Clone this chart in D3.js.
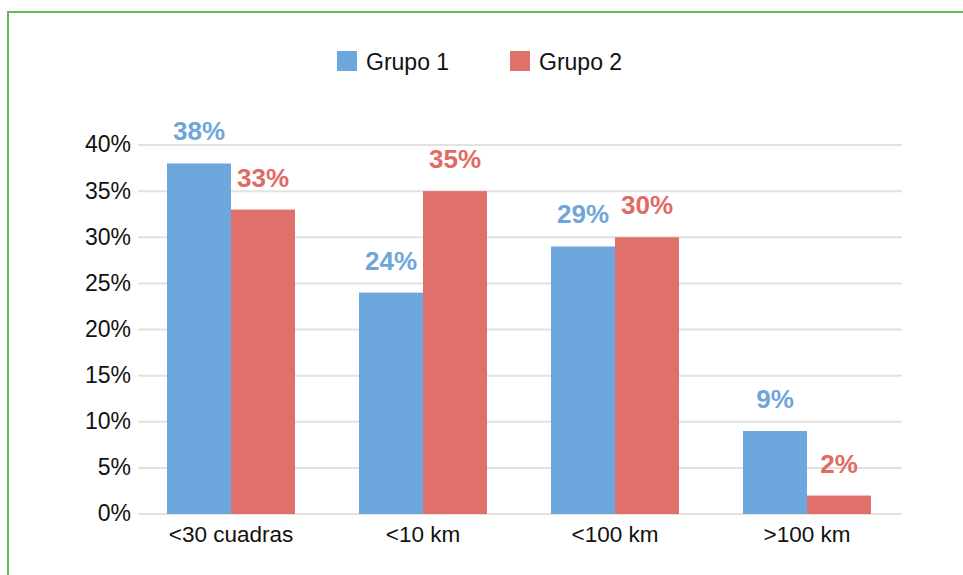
<!DOCTYPE html>
<html>
<head>
<meta charset="utf-8">
<script src="https://cdn.jsdelivr.net/npm/d3@7"></script>
<style>
  body { margin: 0; background: #fff; }
  svg { display: block; font-family: "Liberation Sans", Arial, Helvetica, sans-serif; }
</style>
</head>
<body>
<div class="chart"></div>
<script>
// Chart data
var categories = ["<30 cuadras", "<10 km", "<100 km", ">100 km"];
var seriesNames = ["Grupo 1", "Grupo 2"];
var grupo1 = [38, 24, 29, 9];
var grupo2 = [33, 35, 30, 2];
var yTicks = [0, 5, 10, 15, 20, 25, 30, 35, 40];

var colors = ["#6ea6de", "#e0716a"];
var labelColors = ["#6fa6d9", "#e06b63"];

var svgWidth = 963;
var svgHeight = 575;
var margin = {top: 145, right: 60, bottom: 61, left: 135};
var width = svgWidth - margin.left - margin.right;
var height = svgHeight - margin.top - margin.bottom;

var svg = d3.select(".chart")
  .append("svg")
  .attr("width", svgWidth)
  .attr("height", svgHeight);

// green frame (runs off the right and bottom edges)
svg.append("rect")
  .attr("x", 8)
  .attr("y", 12)
  .attr("width", svgWidth + 20)
  .attr("height", svgHeight + 20)
  .attr("fill", "none")
  .attr("stroke", "#63b85b")
  .attr("stroke-width", 2);

var chart = svg.append("g")
  .attr("transform", "translate(" + margin.left + "," + margin.top + ")");

// scales
var x0 = d3.scaleBand().domain(categories).range([0, 768]).paddingInner(1 / 3).paddingOuter(1 / 6);
var x1 = d3.scaleBand().domain(seriesNames).range([0, x0.bandwidth()]);
var y = d3.scaleLinear().domain([0, 40]).range([height, 0]);

// gridlines
chart.append("g")
  .selectAll("line")
  .data(yTicks)
  .enter()
  .append("line")
  .attr("x1", 3)
  .attr("x2", 767)
  .attr("y1", function(d) { return y(d); })
  .attr("y2", function(d) { return y(d); })
  .attr("stroke", "#e2e2e2")
  .attr("stroke-width", 2);

// y axis labels
var leftAxis = d3.axisLeft(y).tickValues(yTicks).tickSize(0).tickPadding(4)
  .tickFormat(function(d) { return d + "%"; });
var yAxis = chart.append("g").call(leftAxis);
yAxis.select(".domain").remove();
yAxis.selectAll("text")
  .attr("font-size", "23px")
  .attr("fill", "#111")
  .attr("font-family", "Liberation Sans, Arial, sans-serif")
  .attr("dy", "0.30em");

// x axis labels
var bottomAxis = d3.axisBottom(x0).tickSize(0).tickPadding(12);
var xAxis = chart.append("g")
  .attr("transform", "translate(0," + height + ")")
  .call(bottomAxis);
xAxis.select(".domain").remove();
xAxis.selectAll("text")
  .attr("font-size", "22.5px")
  .attr("fill", "#111")
  .attr("font-family", "Liberation Sans, Arial, sans-serif");

// table for bars
var rows = categories.map(function(c, i) {
  return {cat: c, values: [
    {name: seriesNames[0], value: grupo1[i], s: 0},
    {name: seriesNames[1], value: grupo2[i], s: 1}
  ]};
});

var groups = chart.selectAll(".grp")
  .data(rows)
  .enter()
  .append("g")
  .attr("class", "grp")
  .attr("transform", function(d) { return "translate(" + x0(d.cat) + ",0)"; });

groups.selectAll("rect")
  .data(function(d) { return d.values; })
  .enter()
  .append("rect")
  .attr("x", function(d) { return x1(d.name); })
  .attr("y", function(d) { return y(d.value); })
  .attr("width", x1.bandwidth())
  .attr("height", function(d) { return height - y(d.value); })
  .attr("fill", function(d) { return colors[d.s]; });

groups.selectAll("text.val")
  .data(function(d) { return d.values; })
  .enter()
  .append("text")
  .attr("class", "val")
  .attr("x", function(d) { return x1(d.name) + x1.bandwidth() / 2; })
  .attr("y", function(d) { return y(d.value) - 23; })
  .attr("text-anchor", "middle")
  .attr("font-size", "26px")
  .attr("font-weight", "bold")
  .attr("fill", function(d) { return labelColors[d.s]; })
  .text(function(d) { return d.value + "%"; });

// legend
var legend = svg.append("g");
var legendX = [337, 510];
seriesNames.forEach(function(name, i) {
  legend.append("rect")
    .attr("x", legendX[i])
    .attr("y", 51)
    .attr("width", 20)
    .attr("height", 20)
    .attr("fill", colors[i]);
  legend.append("text")
    .attr("x", legendX[i] + 29)
    .attr("y", 70)
    .attr("font-size", "23px")
    .attr("fill", "#111")
    .text(name);
});
</script>
</body>
</html>
